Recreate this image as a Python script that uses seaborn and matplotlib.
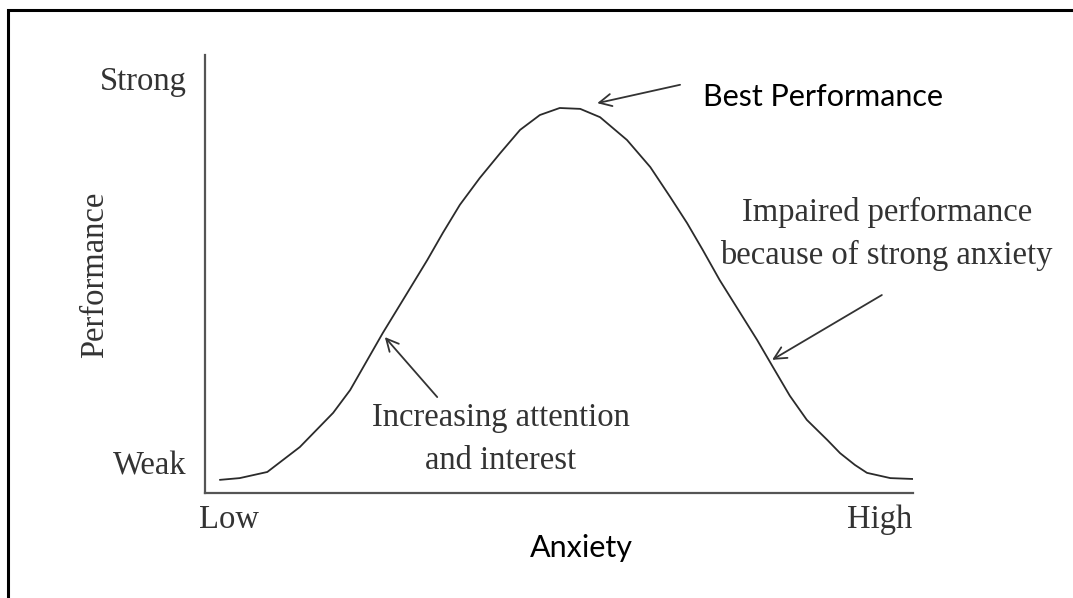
import pandas as pd
import matplotlib.pyplot as plt
import seaborn as sns
from matplotlib.patches import Rectangle

# Datos (ansiedad 0-100, rendimiento 0-100)
anxiety = [2.1, 4.9, 8.8, 13.4, 18.1, 20.5, 25.1, 28.5, 31.4, 33.6, 36.0, 38.8, 41.7,
           44.5, 47.3, 50.1, 53.0, 55.8, 59.6, 62.9, 65.7, 68.1, 70.3, 72.7, 75.6,
           78.0, 80.2, 82.6, 85.0, 87.9, 89.7, 91.8, 93.5, 96.8, 100.0]
performance = [3.0, 3.4, 4.8, 10.5, 18.3, 23.5, 36.5, 45.5, 53.2, 59.4, 65.8, 71.9, 77.6,
               82.9, 86.3, 87.9, 87.7, 85.8, 80.6, 74.4, 67.6, 61.6, 55.5, 48.6, 41.1,
               34.9, 28.8, 22.2, 16.7, 12.1, 9.1, 6.4, 4.6, 3.4, 3.2]

y_tick_pos = [6.8, 94.7]
y_tick_labels = ["Weak", "Strong"]
x_tick_pos = [3.4, 95.3]
x_tick_labels = ["Low", "High"]

df = pd.DataFrame({"Anxiety": anxiety, "Performance": performance})

sns.set_style("white")
serif = ["Liberation Serif", "DejaVu Serif"]
sans = ["Lato", "DejaVu Sans"]
plt.rcParams['font.family'] = serif

fig = plt.figure(figsize=(10.73, 5.98), dpi=100)
ax = fig.add_axes([205 / 1073, 105 / 598, 708 / 1073, 438 / 598])

# La curva
sns.lineplot(x="Anxiety", y="Performance", data=df, ax=ax, color="#2b2b2b", linewidth=1.3)
ax.lines[0].set_solid_joinstyle("round")

ax.set_xlim(0, 100)
ax.set_ylim(0, 100)
sns.despine(ax=ax)
for s in ["left", "bottom"]:
    ax.spines[s].set_color("#555555")
    ax.spines[s].set_linewidth(1.6)

ax.set_yticks(y_tick_pos, y_tick_labels)
ax.set_xticks(x_tick_pos, x_tick_labels)
ax.tick_params(axis="y", length=0, pad=13, labelsize=23.5, labelcolor="#333333")
ax.tick_params(axis="x", length=0, pad=8, labelsize=23.5, labelcolor="#333333")

ax.set_ylabel("Performance", fontsize=23.5, color="#333333", va="center")
ax.yaxis.set_label_coords(-0.155, 0.498)
ax.set_xlabel("Anxiety", fontsize=22, family=sans, color="black", va="center")
ax.xaxis.set_label_coords(0.531, -0.126)

# Textos y flechas
arrow = dict(arrowstyle="->", color="#333333", lw=1.3, mutation_scale=22, shrinkA=0, shrinkB=0)

ax.text(70.3, 90.4, "Best Performance", fontsize=22, family=sans, color="black",
        ha="left", va="center")
ax.annotate("", xy=(55.4, 89.0), xytext=(67.1, 93.2), arrowprops=arrow)

ax.text(96.3, 59.2, "Impaired performance\nbecause of strong anxiety", fontsize=23.5,
        color="#333333", ha="center", va="center", linespacing=1.5)
ax.annotate("", xy=(80.1, 30.4), xytext=(95.6, 45.2), arrowprops=arrow)

ax.text(41.8, 12.3, "Increasing attention\nand interest", fontsize=23.5,
        color="#333333", ha="center", va="center", linespacing=1.55)
ax.annotate("", xy=(25.4, 35.6), xytext=(32.8, 21.9), arrowprops=arrow)

# Marco de la imagen
fig.add_artist(Rectangle((8 / 1073, -0.1), 1.2, (588 / 598) + 0.1, transform=fig.transFigure,
                         fill=False, edgecolor="black", linewidth=2.2))

plt.savefig("out.png", dpi=100)
